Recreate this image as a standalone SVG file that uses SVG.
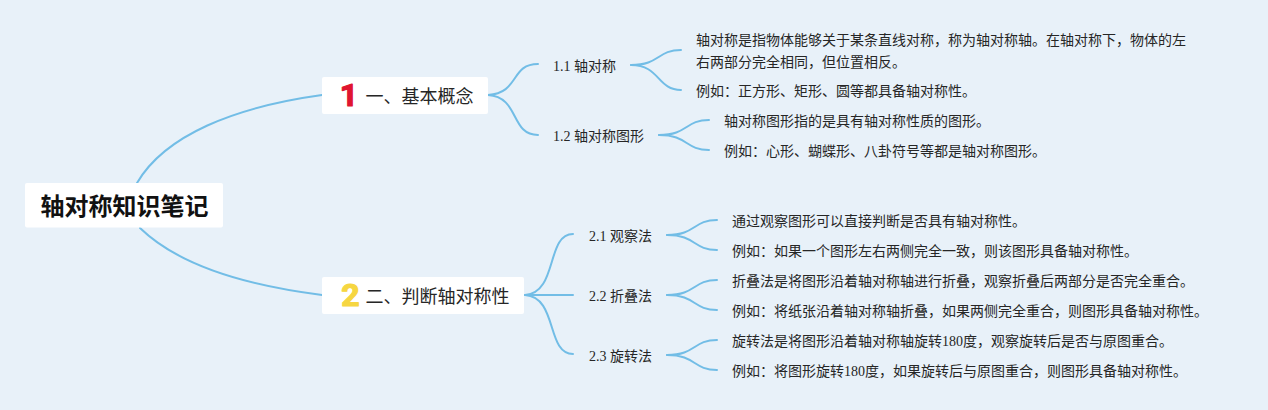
<svg xmlns="http://www.w3.org/2000/svg" width="1268" height="410" viewBox="0 0 1268 410">
<style>
text{font-family:"Liberation Serif","Noto Sans CJK SC",serif;fill:#262626;}
.box{fill:#fff;}
.root{font-size:24px;font-weight:700;fill:#111;font-family:"Noto Sans CJK SC",sans-serif;}
.l1{font-size:18px;}
.l2{font-size:14px;}
.l3{font-size:14px;}
.badge{font-family:"Roboto",sans-serif;font-size:32px;font-weight:700;stroke-width:1.2;stroke-linejoin:round;text-anchor:middle;}
#connectors path{fill:none;stroke:#72bde6;stroke-width:2;stroke-linecap:round;}
</style>
<rect width="1268" height="410" fill="#e8f1f9"/>
<g id="connectors">
<path d="M137 183C165 135 235 107 322 95"/>
<path d="M140 228C175 262 235 284 322 295"/>
<path d="M488 95C520 93 510 64 538 64"/>
<path d="M488 95C520 97 510 135 538 135"/>
<path d="M631 65C660 65 657 50 681 50"/>
<path d="M631 65C660 65 657 90 681 90"/>
<path d="M659 135C688 135 685 120 709 120"/>
<path d="M659 135C688 135 685 150 709 150"/>
<path d="M525 295C558 293 546 234 573 234"/>
<path d="M525 295L573 295"/>
<path d="M525 295C558 297 546 354 573 354"/>
<path d="M667 235C696 235 693 220 717 220"/>
<path d="M667 235C696 235 693 250 717 250"/>
<path d="M667 295C696 295 693 280 717 280"/>
<path d="M667 295C696 295 693 310 717 310"/>
<path d="M667 355C696 355 693 340 717 340"/>
<path d="M667 355C696 355 693 370 717 370"/>
</g>
<g id="root"><rect class="box" x="25" y="183" width="198" height="44.500" rx="2"/><text class="root" x="40.500" y="215">轴对称知识笔记</text></g>
<g id="n1"><rect class="box" x="322" y="77" width="166" height="37" rx="2"/><text class="badge" x="349" y="106.300" stroke="#e0152f" style="fill:#e0152f">1</text><text class="l1" x="365.500" y="103">一、基本概念</text></g>
<g id="n2"><rect class="box" x="322" y="277" width="202" height="37" rx="2"/><text class="badge" x="350.500" y="306.300" stroke="#f6d641" style="fill:#f6d641">2</text><text class="l1" x="365.500" y="303">二、判断轴对称性</text></g>
<g id="n11"><text class="l2" x="553" y="71">1.1 轴对称</text></g>
<g id="n12"><text class="l2" x="553" y="141">1.2 轴对称图形</text></g>
<g id="n111"><text class="l3" x="696" y="45">轴对称是指物体能够关于某条直线对称，称为轴对称轴。在轴对称下，物体的左</text><text class="l3" x="696" y="67">右两部分完全相同，但位置相反。</text></g>
<g id="n112"><text class="l3" x="696" y="96">例如：正方形、矩形、圆等都具备轴对称性。</text></g>
<g id="n121"><text class="l3" x="724" y="126">轴对称图形指的是具有轴对称性质的图形。</text></g>
<g id="n122"><text class="l3" x="724" y="156">例如：心形、蝴蝶形、八卦符号等都是轴对称图形。</text></g>
<g id="n21"><text class="l2" x="589" y="241">2.1 观察法</text></g>
<g id="n22"><text class="l2" x="589" y="301">2.2 折叠法</text></g>
<g id="n23"><text class="l2" x="589" y="361">2.3 旋转法</text></g>
<g id="n211"><text class="l3" x="732" y="226">通过观察图形可以直接判断是否具有轴对称性。</text></g>
<g id="n212"><text class="l3" x="732" y="256">例如：如果一个图形左右两侧完全一致，则该图形具备轴对称性。</text></g>
<g id="n221"><text class="l3" x="732" y="286">折叠法是将图形沿着轴对称轴进行折叠，观察折叠后两部分是否完全重合。</text></g>
<g id="n222"><text class="l3" x="732" y="316">例如：将纸张沿着轴对称轴折叠，如果两侧完全重合，则图形具备轴对称性。</text></g>
<g id="n231"><text class="l3" x="732" y="346">旋转法是将图形沿着轴对称轴旋转180度，观察旋转后是否与原图重合。</text></g>
<g id="n232"><text class="l3" x="732" y="376">例如：将图形旋转180度，如果旋转后与原图重合，则图形具备轴对称性。</text></g>
</svg>
